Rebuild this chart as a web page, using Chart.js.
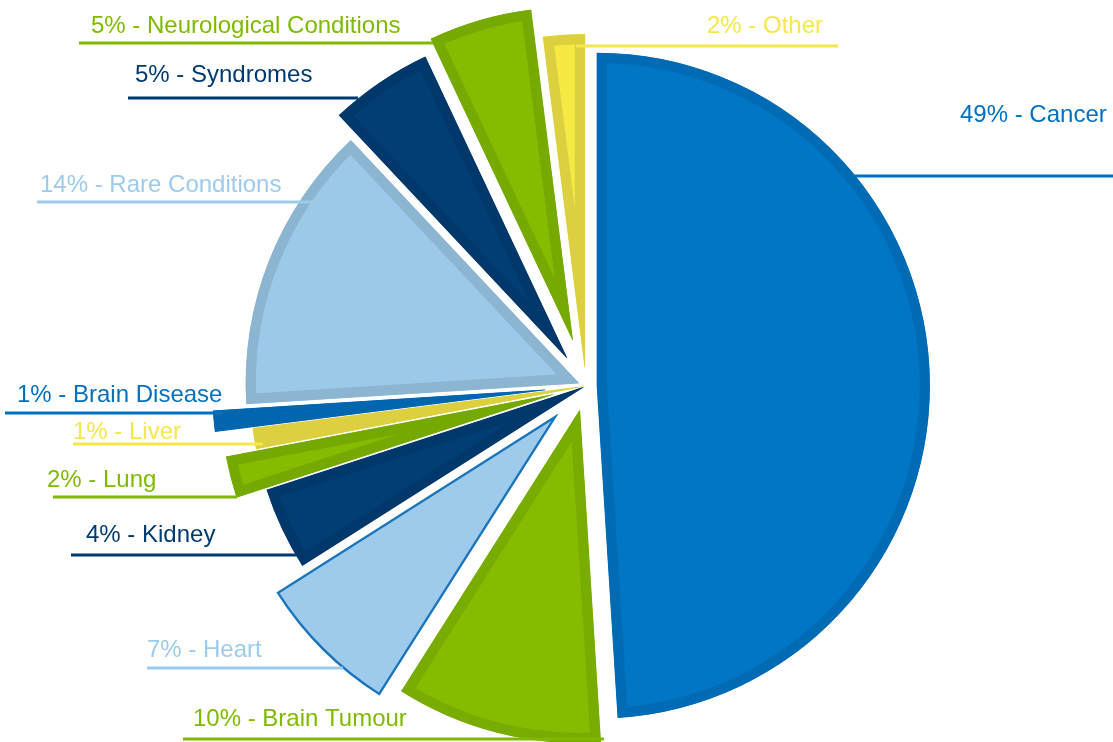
<!DOCTYPE html>
<html>
<head>
<meta charset="utf-8">
<title>Conditions</title>
<script src="https://cdn.jsdelivr.net/npm/chart.js@4.4.1/dist/chart.umd.min.js"></script>
<style>
    body { margin: 0; background: #fff; }
    canvas { display: block; }
</style>
</head>
<body>
<canvas id="canvas" width="1113" height="742"></canvas>
<script>
// data, clockwise from 12 o'clock
const categories = ['Cancer', 'Brain Tumour', 'Heart', 'Kidney', 'Lung', 'Liver',
    'Brain Disease', 'Rare Conditions', 'Syndromes', 'Neurological Conditions', 'Other'];
const percents = [49, 10, 7, 4, 2, 1, 1, 14, 5, 5, 2];

// styles
const fillColors = ['#0076C5', '#84BC00', '#9ECBEB', '#003E74', '#84BC00', '#DFD443',
    '#0068B4', '#9CC9E9', '#003E74', '#84BC00', '#F6E944'];
const edgeColors = ['#006BB5', '#78AC00', '#1B75BC', '#00386B', '#76A900', '#DCD040',
    '#0066B0', '#8BB5D1', '#00386B', '#77AA00', '#DCD040'];
const edgeWidths = [10, 10, 2, 10, 10, 10, 10, 10, 10, 10, 10];
const explode = [11, 25, 40, 3, 34, 3, 41, 8, 34, 48, 19]; // px
const textColors = ['#0070C0', '#7FBA00', '#9DCBEB', '#003A70', '#7FBA00', '#F5E84A',
    '#0070C0', '#9DCBEB', '#003A70', '#7FBA00', '#F5E84A'];
// [textX, baseline, lineFrom, lineTo, lineY]
const labelPos = [
    [960, 122, 853, 1113, 176],
    [193, 726, 183, 604, 739],
    [147, 657, 147, 343, 668],
    [86, 542, 71, 297, 555],
    [47, 487, 53, 237, 497],
    [73, 439, 73, 263, 444],
    [17, 402, 5, 223, 413],
    [40, 192, 37, 313, 202],
    [135, 82, 128, 358, 98],
    [91, 33, 79, 433, 43],
    [707, 33, 576, 838, 46]
];

// chart.js also grows thin slices when offset is used,
// so do the shift here and draw the arc itself with no offset
const arcDraw = Chart.ArcElement.prototype.draw;
Chart.ArcElement.prototype.draw = function (ctx) {
    const opts = this.options;
    const shift = (opts.offset || 0) / 4;
    const mid = (this.startAngle + this.endAngle) / 2;
    ctx.save();
    ctx.translate(Math.cos(mid) * shift, Math.sin(mid) * shift);
    this.options = Object.assign({}, opts, { offset: 0 });
    arcDraw.call(this, ctx);
    this.options = opts;
    ctx.restore();
};

const leaderLabels = {
    id: 'leaderLabels',
    afterDatasetsDraw(chart) {
        const ctx = chart.ctx;
        ctx.save();
        ctx.font = '24px "Liberation Sans", Arial, sans-serif';
        ctx.textBaseline = 'alphabetic';
        ctx.textAlign = 'left';
        for (let i = 0; i < categories.length; i++) {
            const p = labelPos[i];
            ctx.strokeStyle = textColors[i];
            ctx.lineWidth = 3;
            ctx.beginPath();
            ctx.moveTo(p[2], p[4]);
            ctx.lineTo(p[3], p[4]);
            ctx.stroke();
            ctx.fillStyle = textColors[i];
            ctx.fillText(percents[i] + '% - ' + categories[i], p[0], p[1]);
        }
        ctx.restore();
    }
};

const ctx = document.getElementById('canvas').getContext('2d');
const myChart = new Chart(ctx, {
    type: 'pie',
    data: {
        labels: categories,
        datasets: [{
            data: percents,
            backgroundColor: fillColors,
            borderColor: edgeColors,
            borderWidth: edgeWidths,
            borderAlign: 'inner',
            offset: explode.map(d => d * 4)
        }]
    },
    options: {
        responsive: false,
        animation: false,
        radius: 333,
        layout: { padding: { left: 59, top: 30 } },
        events: [],
        plugins: {
            legend: { display: false },
            tooltip: { enabled: false }
        }
    },
    plugins: [leaderLabels]
});
</script>
</body>
</html>
